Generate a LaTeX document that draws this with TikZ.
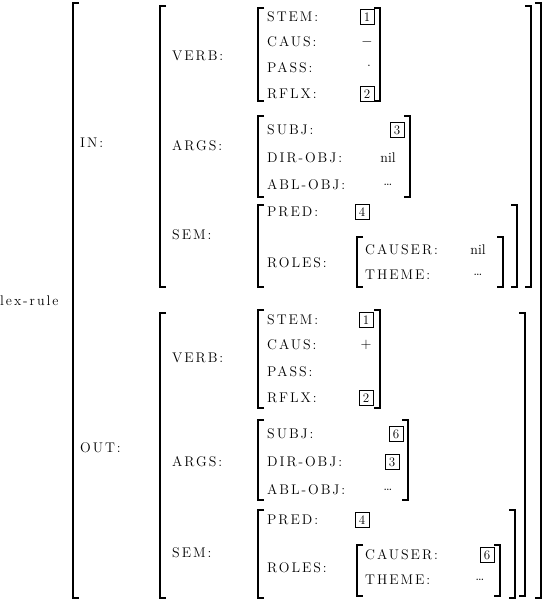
\documentclass[tikz,border=0pt]{standalone}
\usepackage{fontspec}
\usepackage{tikz}
\usetikzlibrary{positioning}
\newfontfamily\avmfont{Latin Modern Roman}[LetterSpace=14]

% open / close brackets of a feature matrix: x, top y, bottom y
\newcommand{\avmopen}[3]{\draw[brk] (#1+6,#2) -- (#1,#2) -- (#1,#3) -- (#1+6,#3);}
\newcommand{\avmclose}[3]{\draw[brk] (#1-6,#2) -- (#1,#2) -- (#1,#3) -- (#1-6,#3);}

\begin{document}
\begin{tikzpicture}[x=1pt, y=-1pt,
  attr/.style={anchor=west, inner sep=0pt, font=\avmfont\fontsize{14}{16}\selectfont},
  val/.style={inner sep=0pt, font=\fontsize{14}{16}\selectfont},
  tag/.style={draw, line width=1pt, inner sep=1.5pt, minimum width=14pt, minimum height=15pt, font=\fontsize{13}{14}\selectfont},
  brk/.style={line width=1.6pt}
]
  \useasboundingbox (0,0) rectangle (548,602);

  % Outer matrix
  \node[attr] (lex) at (0,301) {lex-rule};
  \avmopen{73}{3}{598}
  \avmclose{541}{3}{598}

  % IN
  \node[attr] (in) at (80,143) {IN:};
  \avmopen{160}{6}{287}
  \avmclose{531}{6}{287}

  \node[attr] (inverb) at (172,56) {VERB:};
  \avmopen{258}{8}{101}
  \avmclose{380}{8}{101}
  \node[attr] (instem) at (267,17) {STEM:};
  \node[attr] (incaus) at (267,42) {CAUS:};
  \node[attr] (inpass) at (267,68) {PASS:};
  \node[attr] (inrflx) at (267,94) {RFLX:};
  \node[tag] (instemv) at (367,17) {1};
  \node[val] (incausv) at (367,42) {$-$};
  \node[val] (inpassv) at (369,66) {.};
  \node[tag] (inrflxv) at (367,94) {2};

  \node[attr] (inargs) at (172,146) {ARGS:};
  \avmopen{258}{116}{197}
  \avmclose{410}{116}{197}
  \node[attr] (insubj) at (267,130) {SUBJ:};
  \node[attr] (indir) at (267,158) {DIR-OBJ:};
  \node[attr] (inabl) at (267,185) {ABL-OBJ:};
  \node[tag] (insubjv) at (397,130) {3};
  \node[val] (indirv) at (388,158) {nil};
  \node[val] (inablv) at (388,185) {\dots};

  \node[attr] (insem) at (172,235) {SEM:};
  \avmopen{258}{205}{287}
  \avmclose{517}{205}{287}
  \node[attr] (inpred) at (267,212) {PRED:};
  \node[attr] (inroles) at (267,263) {ROLES:};
  \node[tag] (inpredv) at (362,212) {4};
  \avmopen{357}{237}{287}
  \avmclose{503}{237}{287}
  \node[attr] (incauser) at (365,250) {CAUSER:};
  \node[attr] (intheme) at (365,275) {THEME:};
  \node[val] (incauserv) at (478,250) {nil};
  \node[val] (inthemev) at (478,275) {\dots};

  % OUT
  \node[attr] (out) at (80,448) {OUT:};
  \avmopen{160}{313}{598}
  \avmclose{525}{313}{596}

  \node[attr] (outverb) at (172,358) {VERB:};
  \avmopen{258}{310}{408}
  \avmclose{380}{310}{408}
  \node[attr] (outstem) at (267,320) {STEM:};
  \node[attr] (outcaus) at (267,345) {CAUS:};
  \node[attr] (outpass) at (267,372) {PASS:};
  \node[attr] (outrflx) at (267,398) {RFLX:};
  \node[tag] (outstemv) at (366,320) {1};
  \node[val] (outcausv) at (366,345) {$+$};
  \node[tag] (outrflxv) at (366,398) {2};

  \node[attr] (outargs) at (172,462) {ARGS:};
  \avmopen{258}{420}{500}
  \avmclose{408}{420}{500}
  \node[attr] (outsubj) at (267,434) {SUBJ:};
  \node[attr] (outdir) at (267,462) {DIR-OBJ:};
  \node[attr] (outabl) at (267,490) {ABL-OBJ:};
  \node[tag] (outsubjv) at (396,434) {6};
  \node[tag] (outdirv) at (392,462) {3};
  \node[val] (outablv) at (388,490) {\dots};

  \node[attr] (outsem) at (172,553) {SEM:};
  \avmopen{258}{510}{598}
  \avmclose{515}{510}{598}
  \node[attr] (outpred) at (267,520) {PRED:};
  \node[attr] (outroles) at (267,568) {ROLES:};
  \node[tag] (outpredv) at (362,520) {4};
  \avmopen{357}{545}{596}
  \avmclose{500}{545}{596}
  \node[attr] (outcauser) at (365,555) {CAUSER:};
  \node[attr] (outtheme) at (365,580) {THEME:};
  \node[tag] (outcauserv) at (487,555) {6};
  \node[val] (outthemev) at (480,580) {\dots};
\end{tikzpicture}
\end{document}
